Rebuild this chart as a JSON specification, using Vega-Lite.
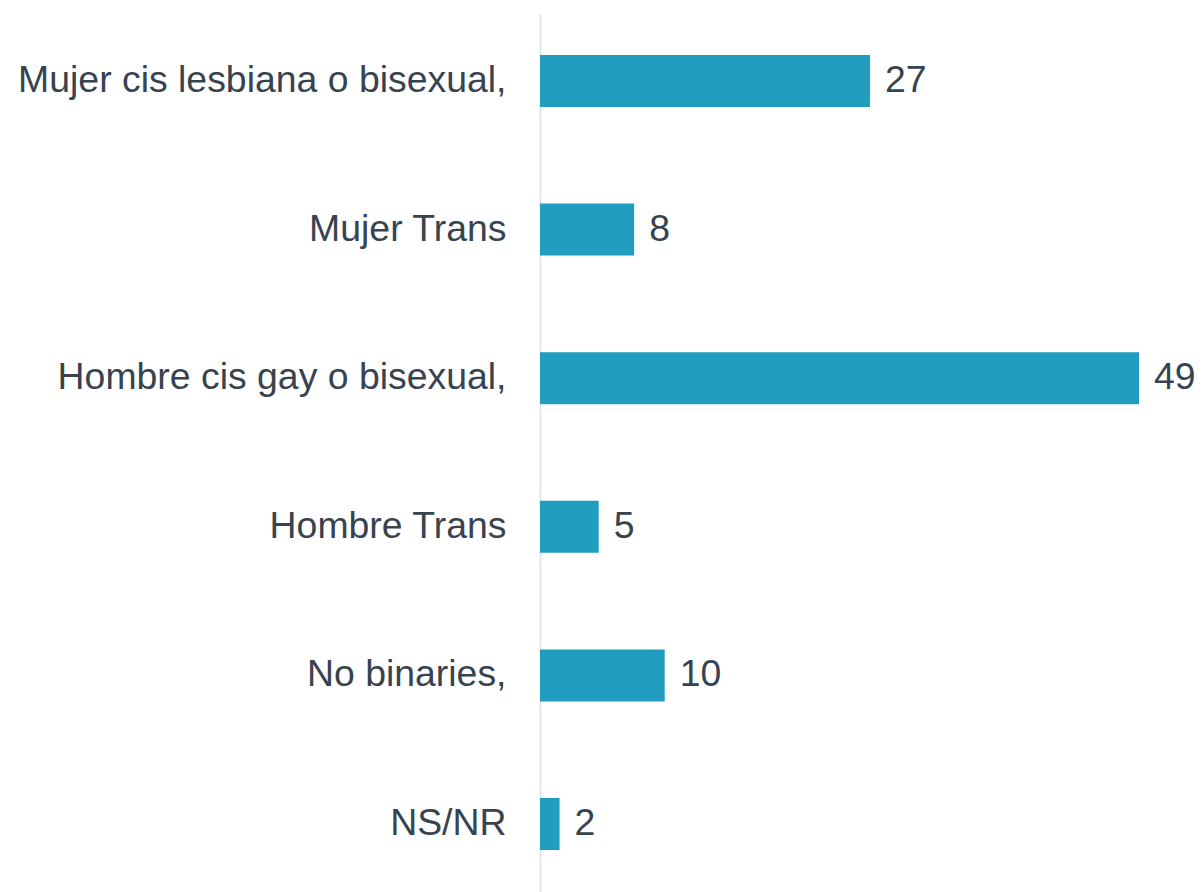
{
  "$schema": "https://vega.github.io/schema/vega-lite/v6.json",
  "autosize": {"type": "none"},
  "width": 599,
  "height": 879,
  "padding": {"left": 540, "top": 13, "right": 63, "bottom": 0},
  "background": "white",
  "config": {"view": {"stroke": null}, "font": "Liberation Sans"},
  "data": {
    "values": [
      {"categoria": "Mujer cis lesbiana o bisexual,", "valor": 27},
      {"categoria": "Mujer Trans", "valor": 7.7},
      {"categoria": "Hombre cis gay o bisexual,", "valor": 49},
      {"categoria": "Hombre Trans", "valor": 4.8},
      {"categoria": "No binaries,", "valor": 10.2},
      {"categoria": "NS/NR", "valor": 1.6}
    ]
  },
  "encoding": {
    "y": {
      "field": "categoria",
      "type": "nominal",
      "sort": null,
      "scale": {"paddingInner": 0.65, "paddingOuter": 0.2825},
      "axis": {
        "title": null,
        "ticks": false,
        "labelFont": "Liberation Sans",
        "labelFontSize": 37.4,
        "labelColor": "#37434f",
        "labelPadding": 34,
        "labelLimit": 600,
        "domainColor": "#e3e6ea",
        "domainWidth": 2,
        "grid": false
      }
    },
    "x": {
      "field": "valor",
      "type": "quantitative",
      "scale": {"domain": [0, 49], "nice": false, "zero": true},
      "axis": null
    }
  },
  "layer": [
    {"mark": {"type": "bar", "color": "#209dbf"}},
    {
      "mark": {"type": "text", "align": "left", "baseline": "middle", "dx": 15, "fontSize": 37.4, "font": "Liberation Sans", "color": "#37434f"},
      "encoding": {"text": {"field": "valor", "type": "quantitative", "format": ".0f"}}
    }
  ]
}
